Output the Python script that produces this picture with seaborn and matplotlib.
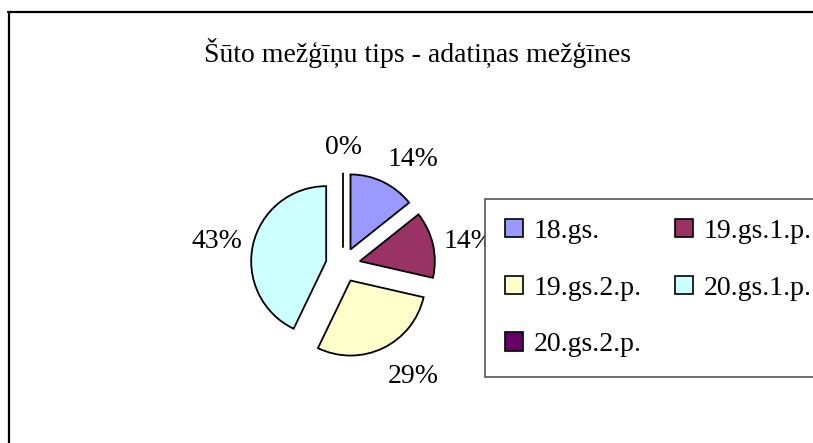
import matplotlib
matplotlib.use("Agg")
import numpy as np
import matplotlib.pyplot as plt
from matplotlib.lines import Line2D
import seaborn as sns

# Data
categories = ["18.gs.", "19.gs.1.p.", "19.gs.2.p.", "20.gs.1.p.", "20.gs.2.p."]
counts = [1, 1, 2, 3, 0]
colors = ["#9999FF", "#993366", "#FFFFCC", "#CCFFFF", "#660066"]
title = "Šūto mežģīņu tips - adatiņas mežģīnes"

sns.set_theme(style="white")
plt.rcParams["font.family"] = ["Liberation Serif", "DejaVu Serif"]
plt.rcParams["text.color"] = "black"

W, H = 813, 443
FS = 20
fig = plt.figure(figsize=(W / 100, H / 100), dpi=100)
fig.patch.set_facecolor("white")

# Pie axes: square, centred on the pie, 75 px per data unit
cx, cy, half = 343, 265, 150
ax = fig.add_axes([(cx - half) / W, (H - cy - half) / H, 2 * half / W, 2 * half / H])
palette = sns.color_palette(colors)
wedges, texts, autotexts = ax.pie(
    counts,
    colors=palette,
    startangle=90,
    counterclock=False,
    explode=[0.23] * len(counts),
    autopct="%1.0f%%",
    pctdistance=1.45,
    wedgeprops=dict(edgecolor="black", linewidth=1.3),
    textprops=dict(fontsize=FS, color="black"),
)
ax.set_xlim(-2, 2)
ax.set_ylim(-2, 2)
ax.set_aspect("equal")
ax.axis("off")

# Percentage labels sit just outside each slice, their near edge toward the pie
label_r = 1.38
for w, t in zip(wedges, autotexts):
    mid = np.deg2rad((w.theta1 + w.theta2) / 2)
    ux, uy = np.cos(mid), np.sin(mid)
    if abs(ux) < 0.1:
        ha = "center"
    elif ux > 0:
        ha = "left"
    else:
        ha = "right"
    t.set_position((label_r * ux, label_r * uy + 0.22 * uy))
    t.set_ha(ha)
    t.set_va("center_baseline")

fig.text(417 / W, 1 - 50 / H, title, ha="center", va="center_baseline", fontsize=FS)

# Legend laid out row by row (two columns)
order = [0, 2, 4, 1, 3]
x0, y_top = 485, 199
leg = fig.legend(
    [wedges[i] for i in order],
    [categories[i] for i in order],
    ncol=2,
    loc="upper left",
    bbox_to_anchor=(x0 / W, (H - y_top) / H),
    fontsize=FS,
    frameon=True,
    fancybox=False,
    shadow=False,
    handlelength=0.63,
    handleheight=0.63,
    handletextpad=0.4,
    labelspacing=1.14,
    borderpad=0.72,
    borderaxespad=0,
    columnspacing=1.2,
)
frame = leg.get_frame()
frame.set_edgecolor("#555555")
frame.set_linewidth(1.2)
frame.set_facecolor("white")
frame.set_alpha(1)
for h in leg.legend_handles:
    h.set_edgecolor("black")
    h.set_linewidth(1.2)

# Chart border (top and left edges)
fig.add_artist(Line2D([8 / W, 1], [1 - 12 / H, 1 - 12 / H], color="black", lw=1.6))
fig.add_artist(Line2D([9 / W, 9 / W], [1 - 12 / H, 0], color="black", lw=1.6))

fig.savefig("out.png", dpi=100, facecolor="white")
